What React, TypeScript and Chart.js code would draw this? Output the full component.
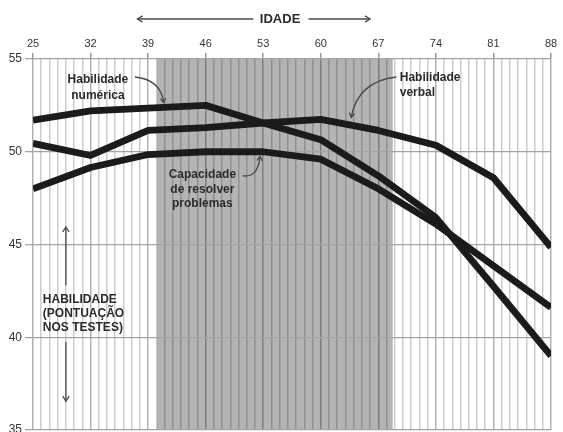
import React, { useEffect, useRef } from "react";
import { Chart, registerables } from "chart.js";
Chart.register(...registerables);

const ages = [25, 32, 39, 46, 53, 60, 67, 74, 81, 88];
const numerica = [51.7, 52.2, 52.35, 52.5, 51.55, 50.65, 48.7, 46.45, 42.75, 39.0];
const verbal = [50.45, 49.8, 51.15, 51.3, 51.55, 51.75, 51.15, 50.35, 48.6, 44.85];
const problemas = [48.0, 49.15, 49.85, 50.0, 50.0, 49.6, 48.0, 46.1, 43.85, 41.6];
const yTicks = [35, 40, 45, 50, 55];
const shadedAges = [40.1, 68.75];

const FONT = '"Liberation Sans", Arial, Helvetica, sans-serif';
const TEXT = "#2b2b2b";
const ARROW = "#4a4a4a";

function head(ctx: CanvasRenderingContext2D, fx: number, fy: number, tx: number, ty: number, len = 6) {
  const a = Math.atan2(ty - fy, tx - fx);
  ctx.beginPath();
  ctx.moveTo(tx - len * Math.cos(a - 0.55), ty - len * Math.sin(a - 0.55));
  ctx.lineTo(tx, ty);
  ctx.lineTo(tx - len * Math.cos(a + 0.55), ty - len * Math.sin(a + 0.55));
  ctx.stroke();
}

const overlay = {
  id: "overlay",
  beforeDraw(chart: any) {
    const { ctx, chartArea, scales } = chart;
    const x = scales.x;
    ctx.save();
    ctx.fillStyle = "#b4b4b4";
    const x0 = x.getPixelForValue(shadedAges[0]);
    const x1 = x.getPixelForValue(shadedAges[1]);
    ctx.fillRect(x0, chartArea.top, x1 - x0, chartArea.bottom - chartArea.top);
    ctx.restore();
  },
  afterDatasetsDraw(chart: any) {
    const { ctx, scales } = chart;
    const px = (a: number) => scales.x.getPixelForValue(a);
    const py = (v: number) => scales.y.getPixelForValue(v);
    ctx.save();
    ctx.fillStyle = TEXT;
    ctx.textBaseline = "middle";
    ctx.font = `bold 12px ${FONT}`;
    ctx.textAlign = "center";
    ctx.fillText("Habilidade", px(32.9), py(53.87));
    ctx.fillText("numérica", px(32.9), py(53.0));
    ctx.fillText("Capacidade", px(45.6), py(48.75));
    ctx.fillText("de resolver", px(45.6), py(47.95));
    ctx.fillText("problemas", px(45.6), py(47.2));
    ctx.textAlign = "left";
    ctx.fillText("Habilidade", px(69.6), py(53.97));
    ctx.fillText("verbal", px(69.6), py(53.17));
    ctx.fillText("HABILIDADE", px(26.2), py(42.0));
    ctx.fillText("(PONTUAÇÃO", px(26.2), py(41.25));
    ctx.fillText("NOS TESTES)", px(26.2), py(40.5));
    ctx.textAlign = "center";
    ctx.font = `bold 13px ${FONT}`;
    ctx.fillText("IDADE", px(55.05), 19);

    ctx.strokeStyle = ARROW;
    ctx.lineWidth = 1.3;
    const curve = (s: number[], c: number[], e: number[]) => {
      const sx = px(s[0]), sy = py(s[1]), cx = px(c[0]), cy = py(c[1]), ex = px(e[0]), ey = py(e[1]);
      ctx.beginPath();
      ctx.moveTo(sx, sy);
      ctx.quadraticCurveTo(cx, cy, ex, ey);
      ctx.stroke();
      head(ctx, cx, cy, ex, ey, 5);
    };
    curve([37.4, 54.03], [40.5, 53.9], [40.9, 52.65]);
    curve([69.2, 54.03], [64.5, 53.8], [63.7, 51.85]);
    curve([50.5, 48.7], [52.4, 48.6], [52.6, 49.75]);

    const straight = (x1: number, y1: number, x2: number, y2: number) => {
      ctx.beginPath();
      ctx.moveTo(x1, y1);
      ctx.lineTo(x2, y2);
      ctx.stroke();
      head(ctx, x1, y1, x2, y2, 6);
    };
    straight(px(29.0), py(42.8), px(29.0), py(45.95));
    straight(px(29.0), py(39.75), px(29.0), py(36.55));
    straight(px(51.8), 19, px(37.7), 19);
    straight(px(58.5), 19, px(66.0), 19);
    ctx.restore();
  },
};

export default function App() {
  const ref = useRef<HTMLCanvasElement | null>(null);
  useEffect(() => {
    document.body.style.margin = "0";
    const canvas = ref.current;
    if (!canvas) return;
    const mk = (vals: number[]) => ages.map((a, i) => ({ x: a, y: vals[i] }));
    const line = {
      borderColor: "#1b1b1b",
      borderWidth: 6.8,
      pointRadius: 0,
      tension: 0,
      borderJoinStyle: "round" as const,
      borderCapStyle: "butt" as const,
      fill: false,
    };
    const chart = new Chart(canvas, {
      type: "line",
      data: {
        datasets: [
          { label: "Habilidade numérica", data: mk(numerica), ...line },
          { label: "Habilidade verbal", data: mk(verbal), ...line },
          { label: "Capacidade de resolver problemas", data: mk(problemas), ...line },
        ],
      },
      options: {
        responsive: false,
        animation: false,
        devicePixelRatio: 1,
        layout: { padding: { left: 0, right: 12, top: 0, bottom: 2 } },
        plugins: { legend: { display: false }, tooltip: { enabled: false } },
        scales: {
          x: {
            type: "linear",
            position: "top",
            min: ages[0],
            max: ages[ages.length - 1],
            afterFit: (s: any) => { s.height = 59; s.paddingLeft = 0; s.paddingRight = 0; },
            border: { display: false },
            grid: {
              color: (c: any) => (ages.includes(c.tick?.value) ? "rgba(0,0,0,0.3)" : "rgba(0,0,0,0.2)"),
              lineWidth: 1.5,
              tickLength: 6,
              tickColor: (c: any) => (ages.includes(c.tick?.value) ? "#999" : "rgba(0,0,0,0)"),
            },
            ticks: {
              stepSize: 1,
              autoSkip: false,
              maxRotation: 0,
              maxTicksLimit: 200,
              padding: 2,
              color: "#333",
              font: { family: FONT, size: 11 },
              callback: (v: any) => (ages.includes(Number(v)) ? String(v) : ""),
            },
          },
          y: {
            min: yTicks[0],
            max: yTicks[yTicks.length - 1],
            afterFit: (s: any) => { s.width = 33; s.paddingTop = 0; s.paddingBottom = 0; },
            border: { display: false },
            grid: { color: "#a3a3a3", lineWidth: 1.3, tickLength: 8, tickColor: "#a3a3a3" },
            ticks: {
              stepSize: 5,
              padding: 3,
              color: "#333",
              font: { family: FONT, size: 12 },
            },
          },
        },
      },
      plugins: [overlay],
    });
    return () => chart.destroy();
  }, []);
  return (
    <div style={{ width: 563, height: 432 }}>
      <canvas ref={ref} width={563} height={432} style={{ width: 563, height: 432, display: "block" }} />
    </div>
  );
}
